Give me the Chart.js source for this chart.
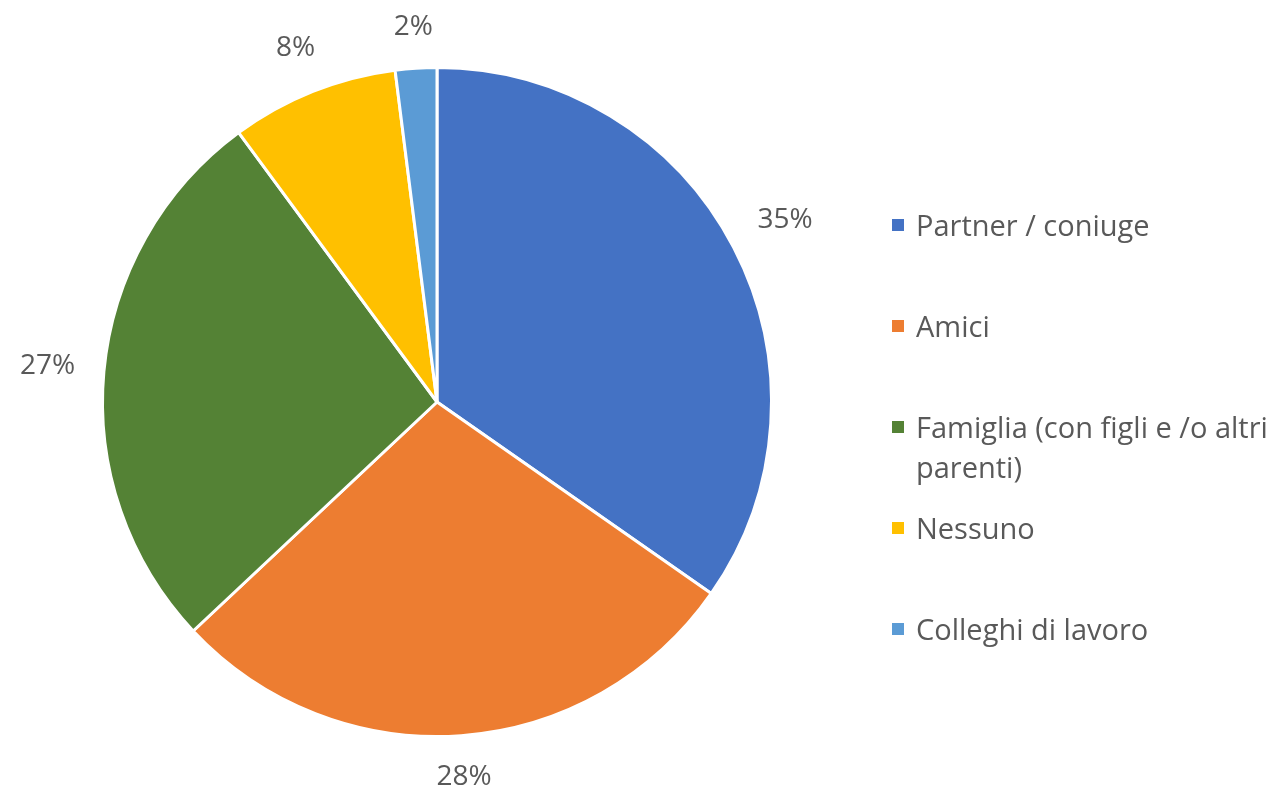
<!DOCTYPE html>
<html>
<head>
<meta charset="utf-8">
<script src="https://cdn.jsdelivr.net/npm/chart.js@4.4.1/dist/chart.umd.min.js"></script>
<style>
    html, body { margin: 0; padding: 0; background: #fff; }
    #wrap { position: relative; width: 1280px; height: 794px; overflow: hidden; }
    #pie { position: absolute; left: 0; top: 0; }
    #leg { position: absolute; left: 892px; top: 174px; width: 388px; margin: 0; padding: 0; list-style: none;
        font-family: "Open Sans", sans-serif; font-size: 29px; color: #595959; }
    #leg li { position: relative; height: 101px; box-sizing: border-box; padding-top: 31px; padding-left: 24px; line-height: 40px; }
    #leg .sq { position: absolute; left: 0; top: 45px; width: 12px; height: 12px; }
</style>
</head>
<body>
<div id="wrap">
    <canvas id="pie" width="1280" height="794"></canvas>
    <ul id="leg"></ul>
</div>
<script>
"use strict";
var categories = ['Partner / coniuge', 'Amici', 'Famiglia (con figli e /o altri parenti)', 'Nessuno', 'Colleghi di lavoro'];
var values = [34.7, 28.3, 26.9, 8.1, 2.0];
var colors = ['#4472C4', '#ED7D31', '#548235', '#FFC000', '#5B9BD5'];

var total = values.reduce(function (a, b) { return a + b; }, 0);
function pct(v) { return Math.round(v / total * 100) + '%'; }

// percentage labels outside the slices
var outLabels = {
    id: 'outLabels',
    afterDatasetsDraw: function (chart) {
        var ctx = chart.ctx;
        var meta = chart.getDatasetMeta(0);
        ctx.save();
        ctx.font = '28px "Open Sans", sans-serif';
        ctx.fillStyle = '#595959';
        ctx.textAlign = 'center';
        ctx.textBaseline = 'middle';
        meta.data.forEach(function (arc, i) {
            var p = arc.getProps(['x', 'y', 'startAngle', 'endAngle', 'outerRadius'], true);
            var mid = (p.startAngle + p.endAngle) / 2;
            var dx = Math.cos(mid), dy = Math.sin(mid);
            var txt = pct(values[i]);
            var w = ctx.measureText(txt).width, h = 24;
            var ext = Math.abs(dx) * w / 2 + Math.abs(dy) * h / 2;
            var d = p.outerRadius + 28 + ext;
            ctx.fillText(txt, p.x + dx * d, p.y + dy * d);
        });
        ctx.restore();
    }
};

new Chart(document.getElementById('pie'), {
    type: 'pie',
    data: {
        labels: categories,
        datasets: [{ data: values, backgroundColor: colors, borderColor: '#fff', borderWidth: 3 }]
    },
    options: {
        responsive: false,
        animation: false,
        layout: { padding: { left: 101, right: 507, top: 66, bottom: 56 } },
        plugins: { legend: { display: false }, tooltip: { enabled: false } }
    },
    plugins: [outLabels]
});

document.getElementById('leg').innerHTML = categories.map(function (c, i) {
    return '<li><span class="sq" style="background:' + colors[i] + '"></span>' + c + '</li>';
}).join('');
</script>
</body>
</html>
